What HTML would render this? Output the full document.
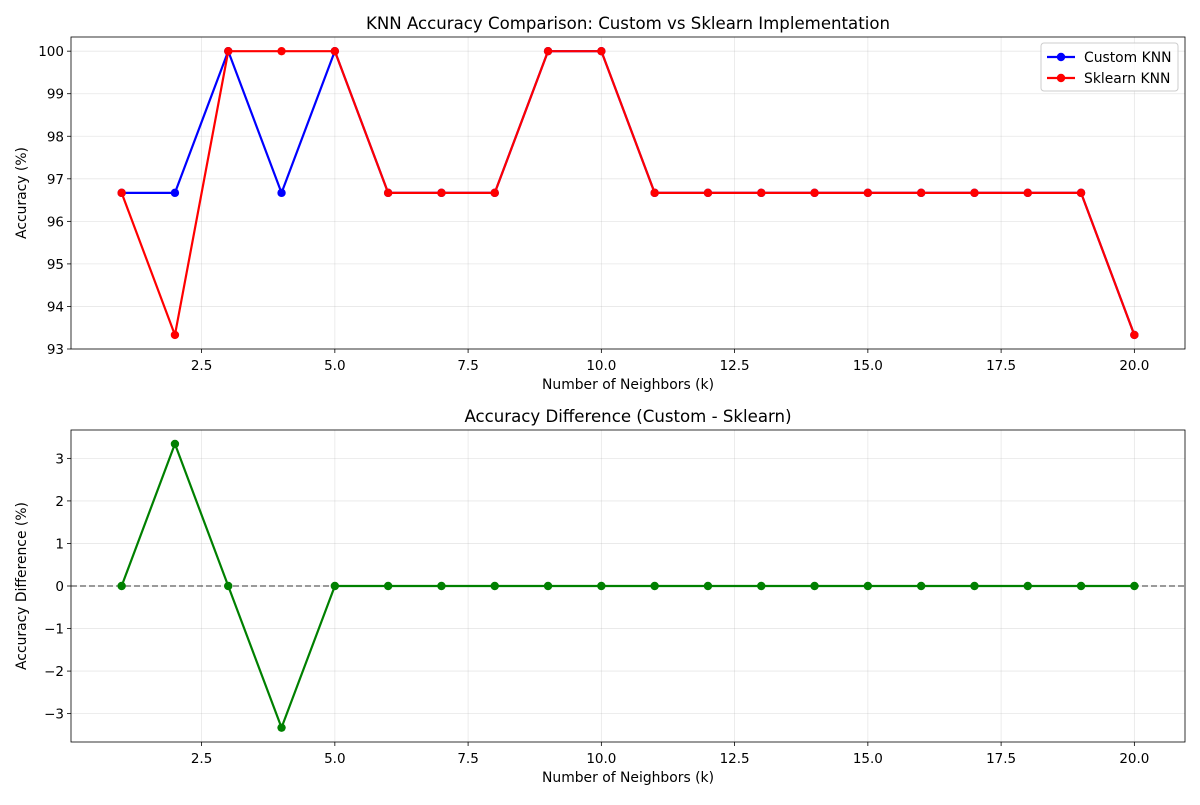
<!DOCTYPE html>
<html><head><meta charset="utf-8"><style>
body{margin:0;background:#fff;font-family:"Liberation Sans","DejaVu Sans",sans-serif;}
svg text{font-family:"DejaVu Sans","Liberation Sans",sans-serif;}
</style></head><body>
<svg id="c" width="1200" height="800" xmlns="http://www.w3.org/2000/svg"></svg>
<script>
const ks=[1,2,3,4,5,6,7,8,9,10,11,12,13,14,15,16,17,18,19,20];
const customAcc=[96.67,96.67,100,96.67,100,96.67,96.67,96.67,100,100,96.67,96.67,96.67,96.67,96.67,96.67,96.67,96.67,96.67,93.33];
const sklearnAcc=[96.67,93.33,100,100,100,96.67,96.67,96.67,100,100,96.67,96.67,96.67,96.67,96.67,96.67,96.67,96.67,96.67,93.33];
const xTicks=[2.5,5.0,7.5,10.0,12.5,15.0,17.5,20.0];
const yTicksTop=[93,94,95,96,97,98,99,100];
const yTicksBot=[-3,-2,-1,0,1,2,3];
const diffAcc=customAcc.map((v,i)=>+(v-sklearnAcc[i]).toFixed(2));

const svg=document.getElementById('c');
const NS='http://www.w3.org/2000/svg';
function el(t,a,txt){const e=document.createElementNS(NS,t);for(const k in a)e.setAttribute(k,a[k]);if(txt!==undefined)e.textContent=txt;svg.appendChild(e);return e;}
const L=71,R=1185;
const xMin=0.05,xMax=20.95;
const X=v=>L+(v-xMin)/(xMax-xMin)*(R-L);

function panel(top,bot,yMin,yMax,yTicks,fmt,title,ylab,prefix){
  const Y=v=>bot-(v-yMin)/(yMax-yMin)*(bot-top);
  xTicks.forEach(t=>{
    const g=el('line',{x1:X(t),x2:X(t),y1:top,y2:bot,stroke:'#b0b0b0','stroke-width':0.8,'stroke-opacity':0.3});
    
    el('line',{x1:X(t),x2:X(t),y1:bot,y2:bot+4,stroke:'#000','stroke-width':0.8});
    const tx=el('text',{x:X(t),y:bot+21,'font-size':13.5,'text-anchor':'middle'},t.toFixed(1));
    
  });
  yTicks.forEach(t=>{
    const g=el('line',{x1:L,x2:R,y1:Y(t),y2:Y(t),stroke:'#b0b0b0','stroke-width':0.8,'stroke-opacity':0.3});
    
    el('line',{x1:L-4,x2:L,y1:Y(t),y2:Y(t),stroke:'#000','stroke-width':0.8});
    const tx=el('text',{x:L-7,y:Y(t)+5,'font-size':13.5,'text-anchor':'end'},fmt(t));
    
  });
  const fr=el('rect',{x:L,y:top,width:R-L,height:bot-top,fill:'none',stroke:'#000','stroke-width':0.8});
  
  const ti=el('text',{x:(L+R)/2,y:top-8,'font-size':16.6,'text-anchor':'middle'},title);
  
  const xl=el('text',{x:(L+R)/2,y:bot+40,'font-size':13.9,'text-anchor':'middle'},'Number of Neighbors (k)');
  
  const yl=el('text',{x:0,y:0,'font-size':13.9,'text-anchor':'middle',transform:`translate(26,${(top+bot)/2}) rotate(-90)`},ylab);
  
  return Y;
}
function series(vals,Y,color,name){
  const pl=el('polyline',{points:ks.map((k,i)=>X(k)+','+Y(vals[i])).join(' '),fill:'none',stroke:color,'stroke-width':2.2,'stroke-linejoin':'round'});
  
  ks.forEach((k,i)=>{
    const c=el('circle',{cx:X(k),cy:Y(vals[i]),r:4.2,fill:color});
    
  });
}
const Y1=panel(37,349,93.0,100.333,yTicksTop,t=>String(t),'KNN Accuracy Comparison: Custom vs Sklearn Implementation','Accuracy (%)','top');
series(customAcc,Y1,'#0000ff','custom-knn');
series(sklearnAcc,Y1,'#ff0000','sklearn-knn');
const lg=el('rect',{x:1041,y:43,width:137,height:48,fill:'#fff','fill-opacity':0.8,stroke:'#ccc',rx:3});

[['Custom KNN','#0000ff',57],['Sklearn KNN','#ff0000',78]].forEach(([n,c,y])=>{
  el('line',{x1:1047,x2:1075,y1:y,y2:y,stroke:c,'stroke-width':2.2});
  el('circle',{cx:1061,cy:y,r:4.2,fill:c});
  const t=el('text',{x:1084,y:y+5,'font-size':13.9},n);
  
});
const Y2=panel(430,742,-3.667,3.667,yTicksBot,t=>t<0?'\u2212'+(-t):String(t),'Accuracy Difference (Custom - Sklearn)','Accuracy Difference (%)','bottom');
const zl=el('line',{x1:L,x2:R,y1:Y2(0),y2:Y2(0),stroke:'#000','stroke-opacity':0.5,'stroke-width':1.6,'stroke-dasharray':'6,3'});

series(diffAcc,Y2,'#008000','difference');
</script>
</body></html>
